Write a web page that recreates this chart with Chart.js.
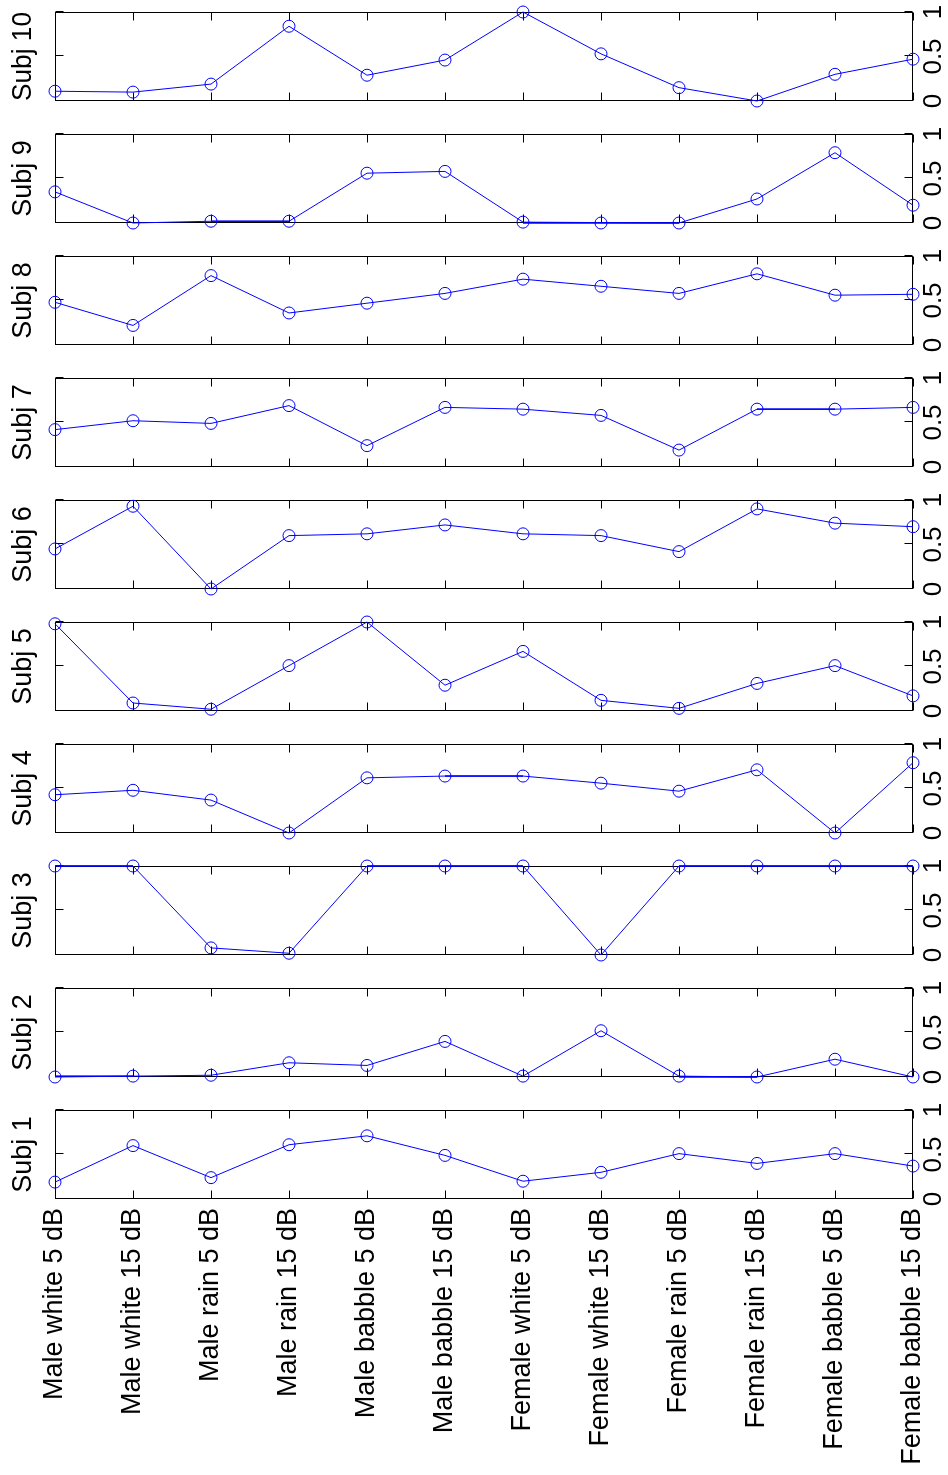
<!DOCTYPE html>
<html>
<head>
<meta charset="utf-8">
<script src="https://cdn.jsdelivr.net/npm/chart.js@4.4.1/dist/chart.umd.min.js"></script>
<style>
    html, body { margin: 0; padding: 0; background: #fff; overflow: hidden; }
    body { width: 948px; height: 1475px; position: relative; }
    /* the figure is laid out sideways and turned a quarter left */
    #fig {
        position: absolute; left: 0; top: 0;
        width: 1475px; height: 948px;
        transform-origin: 0 0;
        transform: translate(0, 1475px) rotate(-90deg);
    }
    #fig canvas { position: absolute; top: 0; }
</style>
</head>
<body>
<div id="fig"></div>
<script>
const conditions = [
    "Male white 5 dB", "Male white 15 dB", "Male rain 5 dB", "Male rain 15 dB",
    "Male babble 5 dB", "Male babble 15 dB", "Female white 5 dB", "Female white 15 dB",
    "Female rain 5 dB", "Female rain 15 dB", "Female babble 5 dB", "Female babble 15 dB"
];
const subj1 = [0.19, 0.60, 0.24, 0.61, 0.71, 0.49, 0.20, 0.30, 0.51, 0.40, 0.51, 0.37];
const subj2 = [0.00, 0.01, 0.02, 0.16, 0.13, 0.40, 0.01, 0.52, 0.01, 0.00, 0.20, 0.00];
const subj3 = [1.00, 1.00, 0.08, 0.02, 1.00, 1.00, 1.00, 0.00, 1.00, 1.00, 1.00, 1.00];
const subj4 = [0.43, 0.48, 0.37, 0.00, 0.62, 0.64, 0.64, 0.56, 0.47, 0.71, 0.00, 0.79];
const subj5 = [0.98, 0.09, 0.02, 0.51, 1.00, 0.29, 0.67, 0.12, 0.03, 0.31, 0.51, 0.17];
const subj6 = [0.45, 0.93, 0.00, 0.60, 0.62, 0.72, 0.62, 0.60, 0.42, 0.90, 0.74, 0.70];
const subj7 = [0.42, 0.52, 0.49, 0.69, 0.24, 0.67, 0.65, 0.58, 0.19, 0.65, 0.65, 0.67];
const subj8 = [0.48, 0.22, 0.78, 0.36, 0.47, 0.58, 0.74, 0.66, 0.58, 0.80, 0.56, 0.57];
const subj9 = [0.35, 0.00, 0.02, 0.02, 0.56, 0.58, 0.01, 0.00, 0.00, 0.27, 0.79, 0.20];
const subj10 = [0.11, 0.10, 0.19, 0.84, 0.29, 0.46, 1.00, 0.53, 0.15, 0.00, 0.30, 0.47];
const subjects = [subj1, subj2, subj3, subj4, subj5, subj6, subj7, subj8, subj9, subj10];
const valueTicks = [0, 0.5, 1];

const FONT = "'Liberation Sans', Arial, Helvetica, sans-serif";
const PANEL_H = 89;      // plot box size along the value axis
const PANEL_STEP = 122;  // distance between panels
const FIRST_LEFT = 276;  // where Subj 1's box starts
const PLOT_TOP = 55;
const PLOT_BOTTOM = 913;
const FIG_H = 948;
const SIDE = 16;
const TICK_LEN = 8;

// matlab style box with inward ticks, drawn under the line
const boxAndTicks = {
    id: 'boxAndTicks',
    beforeDatasetsDraw(chart) {
        const { ctx, chartArea: a, scales } = chart;
        const l = Math.round(a.left) + 0.5, r = Math.round(a.right) - 0.5;
        const t = Math.round(a.top) + 0.5, b = Math.round(a.bottom) - 0.5;
        ctx.save();
        ctx.strokeStyle = '#000';
        ctx.lineWidth = 1;
        ctx.strokeRect(l, t, r - l, b - t);
        ctx.beginPath();
        conditions.forEach((c, i) => {
            const py = Math.round(scales.y.getPixelForValue(i)) + 0.5;
            ctx.moveTo(l, py); ctx.lineTo(l + TICK_LEN, py);
            ctx.moveTo(r, py); ctx.lineTo(r - TICK_LEN, py);
        });
        valueTicks.forEach(v => {
            const px = Math.round(scales.x.getPixelForValue(v)) + 0.5;
            ctx.moveTo(px, t); ctx.lineTo(px, t + TICK_LEN);
            ctx.moveTo(px, b); ctx.lineTo(px, b - TICK_LEN);
        });
        ctx.stroke();
        ctx.restore();
    }
};

const fig = document.getElementById('fig');

subjects.forEach((vals, i) => {
    const first = i === 0;
    const plotLeft = FIRST_LEFT + i * PANEL_STEP;
    const padLeft = first ? plotLeft : SIDE;
    const canvas = document.createElement('canvas');
    canvas.width = padLeft + PANEL_H + SIDE;
    canvas.height = FIG_H;
    canvas.style.left = (plotLeft - padLeft) + 'px';
    fig.appendChild(canvas);

    new Chart(canvas, {
        type: 'line',
        data: {
            labels: conditions,
            datasets: [{
                data: vals,
                xAxisID: 'x',
                yAxisID: 'y',
                borderColor: '#0000ff',
                borderWidth: 1,
                pointRadius: 6,
                pointBorderWidth: 1,
                pointBorderColor: '#0000ff',
                pointBackgroundColor: 'rgba(0,0,0,0)',
                tension: 0,
                clip: false
            }]
        },
        options: {
            indexAxis: 'y',
            responsive: false,
            animation: false,
            devicePixelRatio: 1,
            layout: { padding: 0 },
            plugins: {
                legend: { display: false },
                tooltip: { enabled: false }
            },
            scales: {
                x: {
                    type: 'linear',
                    position: 'bottom',
                    min: 0,
                    max: 1,
                    ticks: {
                        stepSize: 0.5,
                        padding: 5,
                        maxRotation: 0,
                        autoSkip: false,
                        color: '#000',
                        font: { family: FONT, size: 26 },
                        callback: v => String(v)
                    },
                    grid: { display: false, drawTicks: false },
                    border: { display: false },
                    afterFit: s => { s.height = FIG_H - PLOT_BOTTOM; }
                },
                x2: {
                    axis: 'x',
                    type: 'linear',
                    position: 'top',
                    min: 0,
                    max: 1,
                    ticks: { display: false },
                    grid: { display: false, drawTicks: false },
                    border: { display: false },
                    title: {
                        display: true,
                        text: 'Subj ' + (i + 1),
                        color: '#000',
                        font: { family: FONT, size: 27 },
                        padding: { top: 7, bottom: 0 }
                    },
                    afterFit: s => { s.height = PLOT_TOP; }
                },
                y: {
                    type: 'category',
                    position: 'left',
                    ticks: {
                        display: first,
                        autoSkip: false,
                        padding: 9,
                        color: '#000',
                        font: { family: FONT, size: 27 }
                    },
                    grid: { display: false, drawTicks: false },
                    border: { display: false },
                    afterFit: s => { s.width = padLeft; }
                },
                y2: {
                    axis: 'y',
                    type: 'linear',
                    position: 'right',
                    ticks: { display: false },
                    grid: { display: false, drawTicks: false },
                    border: { display: false },
                    afterFit: s => { s.width = SIDE; }
                }
            }
        },
        plugins: [boxAndTicks]
    });
});
</script>
</body>
</html>
